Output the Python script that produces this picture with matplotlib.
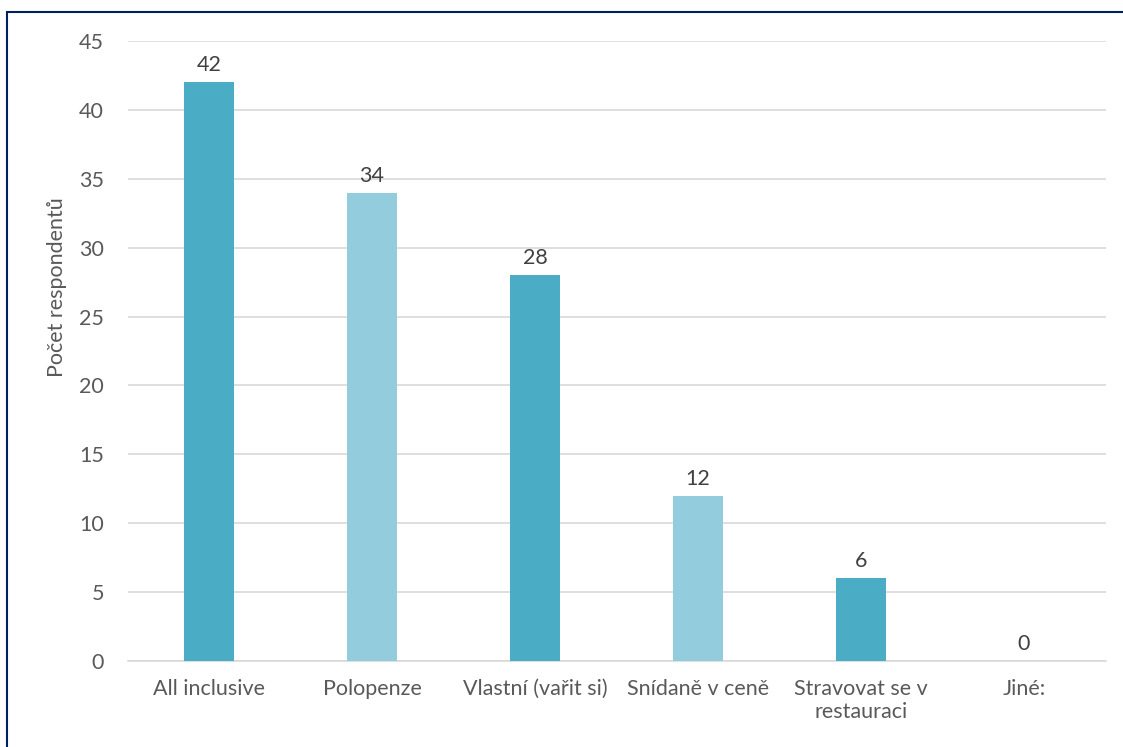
import matplotlib
matplotlib.use("Agg")
import matplotlib.pyplot as plt
from matplotlib.patches import Rectangle

categories = ["All inclusive", "Polopenze", "Vlastní (vařit si)", "Snídaně v ceně", "Stravovat se v\nrestauraci", "Jiné:"]
values = [42, 34, 28, 12, 6, 0]
colors = ["#4BACC6", "#93CDDD", "#4BACC6", "#93CDDD", "#4BACC6", "#93CDDD"]
yticks = [0, 5, 10, 15, 20, 25, 30, 35, 40, 45]

plt.rcParams['font.family'] = ['Lato', 'DejaVu Sans']
FS = 15.5

W, H = 1123, 747
fig = plt.figure(figsize=(W/100, H/100), dpi=100)
ax = fig.add_axes([127.5/W, 1-661/H, (1105.5-127.5)/W, (661-41)/H])

x = list(range(len(categories)))
bars = ax.bar(x, values, width=0.31, color=colors, zorder=3)
for xi, v in zip(x, values):
    ax.annotate(str(v), (xi, v), xytext=(0, 5), textcoords="offset points",
                ha="center", va="bottom", fontsize=FS, color="#404040")

ax.set_xlim(-0.5, len(categories) - 0.5)
ax.set_ylim(0, 45)
ax.set_yticks(yticks)
ax.set_yticklabels([str(t) for t in yticks], fontsize=FS, color="#595959")
ax.set_xticks(x)
ax.set_xticklabels(categories, fontsize=FS, color="#595959", linespacing=1.2)
ax.tick_params(axis="x", length=0, pad=13)
ax.tick_params(axis="y", length=0, pad=17)
ax.grid(axis="y", color="#D9D9D9", linewidth=1.2, zorder=0)
for s in ["top", "right", "left"]:
    ax.spines[s].set_visible(False)
ax.spines["bottom"].set_color("#D9D9D9")
ax.spines["bottom"].set_linewidth(1.2)
ax.set_ylabel("Počet respondentů", fontsize=FS, color="#595959")
ax.yaxis.set_label_coords(-0.062, 0.603)

fig.patches.append(Rectangle((7/W, -0.1), 1.2, 1.1-12/H, transform=fig.transFigure,
                             fill=False, edgecolor="#002060", linewidth=1.5))

fig.savefig("out.png", dpi=100)
